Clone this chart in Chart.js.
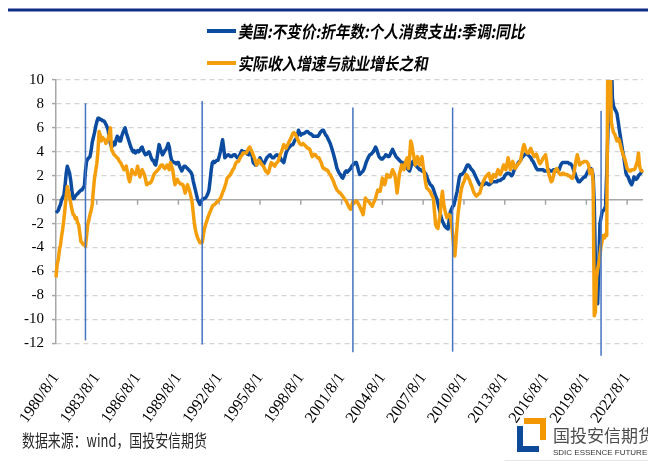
<!DOCTYPE html>
<html>
<head>
<meta charset="utf-8">
<script src="https://cdn.jsdelivr.net/npm/chart.js@4"></script>
<style>
html, body { margin: 0; padding: 0; background: #fff; }
#wrap { position: relative; width: 648px; height: 464px; }
</style>
</head>
<body>
<div id="wrap"><canvas id="ItemA"></canvas></div>
<script>
// monthly, starting 1980/8
var startYear = 1980, startMonth = 8;

var pceYoY = [
  -1.1,-1.0,-0.9,-0.6,-0.4,0.0,0.2,0.4,1.2,2.2,2.8,2.5,
  2.2,1.6,0.8,0.1,0.1,0.3,0.4,0.5,0.6,0.7,0.8,0.8,
  1.0,1.1,2.4,3.2,3.4,3.5,3.6,4.1,4.8,5.2,5.6,6.1,
  6.5,6.8,6.8,6.7,6.7,6.6,6.6,6.5,6.3,6.1,5.8,5.2,
  4.7,4.4,4.5,4.8,4.6,5.0,5.3,5.2,4.9,4.9,5.3,5.6,
  5.8,6.0,5.6,5.3,5.0,4.7,4.4,4.2,4.0,4.1,3.9,4.0,
  4.1,4.0,4.1,4.3,4.4,4.1,3.9,3.75,3.8,3.9,4.0,3.8,
  3.5,3.3,3.3,3.0,2.9,3.4,4.0,4.6,4.3,4.0,3.75,3.9,
  4.1,4.2,4.4,4.7,4.4,3.7,3.3,3.2,3.1,3.1,3.0,3.1,
  3.1,2.8,2.6,2.4,2.6,2.8,2.8,2.7,2.6,2.5,2.4,2.3,
  2.1,1.6,1.2,0.8,0.4,0.0,-0.2,-0.4,-0.2,0.0,0.1,0.1,
  0.15,0.3,0.5,0.8,1.6,2.5,3.1,3.2,3.1,3.2,3.3,3.3,
  3.6,4.0,4.5,5.0,4.3,3.5,3.6,3.7,3.75,3.7,3.6,3.6,
  3.7,3.75,3.75,3.6,3.5,3.5,3.7,3.9,4.1,4.0,4.0,4.0,
  3.9,3.8,3.75,3.9,4.0,3.7,3.1,3.0,2.9,2.9,3.1,3.3,
  3.5,3.3,3.0,2.9,3.1,3.3,3.5,3.6,3.7,3.75,3.6,3.5,
  3.5,3.6,3.7,3.75,3.7,3.6,3.5,3.3,3.2,3.1,3.5,3.9,
  4.1,4.3,4.4,4.5,4.6,4.6,4.8,5.0,5.1,5.4,5.8,5.6,
  5.4,5.5,5.5,5.55,5.6,5.7,5.7,5.6,5.5,5.5,5.4,5.3,
  5.3,5.3,5.3,5.3,5.4,5.6,5.7,5.8,5.8,5.6,5.4,5.3,
  5.1,4.9,4.7,4.4,4.1,3.75,3.4,3.0,2.6,2.4,2.2,2.1,
  1.9,1.8,2.0,2.3,2.4,2.3,2.4,2.5,2.6,2.8,2.9,3.0,
  3.1,3.1,2.8,2.4,2.1,2.2,2.3,2.4,2.6,2.9,3.2,3.4,
  3.6,3.75,3.8,3.9,4.0,4.2,4.4,4.2,3.9,3.6,3.5,3.4,
  3.4,3.5,3.6,3.75,3.7,3.6,3.6,3.8,4.0,4.2,4.0,3.8,
  3.6,3.5,3.4,3.3,3.2,3.1,3.1,3.0,2.9,2.8,2.6,2.5,
  2.4,2.7,3.0,3.2,3.0,2.9,2.8,2.7,2.6,2.5,2.5,2.4,
  2.4,2.3,2.2,2.0,1.7,1.5,1.3,1.2,1.1,0.9,0.6,0.3,
  0.1,-0.3,-0.7,-1.1,-1.5,-1.8,-2.0,-2.2,-2.3,-2.4,-2.45,-1.6,
  -1.0,-0.8,-0.55,-0.5,-0.1,0.3,0.7,1.3,1.9,2.1,2.1,2.2,
  2.3,2.5,2.7,2.9,2.9,2.8,2.6,2.5,2.4,2.2,2.0,1.8,
  1.6,1.4,1.25,1.25,1.3,1.25,1.3,1.4,1.4,1.3,1.25,1.3,
  1.4,1.5,1.5,1.5,1.5,1.5,1.6,1.6,1.6,1.7,1.75,1.8,
  2.0,2.1,2.2,2.2,2.2,2.1,2.0,2.1,2.4,2.6,2.8,2.9,
  3.1,3.2,3.3,3.5,3.6,3.7,3.8,3.9,3.8,3.7,3.6,3.5,
  3.3,3.2,3.0,2.8,2.6,2.5,2.5,2.5,2.5,2.5,2.5,2.4,
  2.4,2.4,2.5,2.5,2.4,2.4,2.4,2.5,2.5,2.5,2.4,2.4,
  2.5,2.8,3.0,3.1,3.1,3.1,3.1,3.1,3.1,3.0,3.0,2.9,
  2.7,2.4,2.2,1.9,1.7,1.5,1.5,1.6,1.7,1.8,1.9,1.9,
  2.1,2.3,2.5,2.6,2.6,2.5,2.0,-0.3,-5.3,-7.5,-8.7,-5.5,
  -2.0,-1.5,-1.0,-0.9,-0.8,-0.5,2.3,5.5,9.5,14.5,12.5,8.5,
  7.8,7.6,7.4,7.2,6.6,5.9,5.3,4.7,4.1,3.6,2.9,2.2,
  2.0,1.9,1.6,1.4,1.25,1.5,1.9,1.8,1.7,1.8,2.0,2.1,
  2.2,2.4,2.4
];

var incomeJobs = [
  -6.5,-5.4,-5.0,-4.2,-3.75,-3.0,-2.4,-1.6,-0.7,0.3,1.1,0.7,
  0.2,-0.3,-0.8,-1.2,-1.3,-1.6,-1.5,-1.9,-2.1,-2.8,-3.5,-3.6,
  -3.75,-3.7,-3.9,-3.0,-2.1,-1.7,-1.25,-0.9,-0.4,0.8,1.8,2.4,
  3.0,4.0,5.7,5.4,4.9,5.2,5.1,5.0,4.7,4.9,5.1,5.5,
  6.0,4.2,4.0,3.8,3.7,3.6,3.5,3.4,3.2,3.1,2.9,2.7,
  2.5,2.6,2.8,2.3,1.8,1.5,2.0,2.5,2.3,2.2,2.1,2.4,
  2.8,2.3,1.9,2.2,2.5,2.3,2.1,1.7,1.25,1.3,1.4,1.4,
  1.5,1.7,2.0,2.2,2.3,2.4,2.5,2.6,2.8,2.9,2.9,2.7,
  2.6,2.7,2.9,2.7,2.5,3.1,2.8,2.5,1.8,1.25,1.5,1.7,
  1.5,1.4,1.3,1.3,1.25,0.9,0.55,0.9,1.25,1.0,0.7,0.3,
  -0.15,-1.0,-1.9,-2.5,-2.9,-3.2,-3.4,-3.6,-3.6,-3.6,-3.0,-2.4,
  -2.1,-1.8,-1.5,-1.25,-1.0,-0.8,-0.55,-0.45,-0.4,-0.3,-0.2,-0.1,
  0.0,0.1,0.3,0.6,0.8,1.1,1.4,1.8,1.9,2.0,2.1,2.3,
  2.5,2.6,2.9,3.1,3.2,3.2,3.4,3.6,3.7,3.9,3.9,3.9,
  3.9,4.1,4.3,4.4,4.2,4.0,3.75,3.5,3.2,2.9,3.1,3.3,
  3.2,3.0,2.9,2.8,2.6,2.4,2.3,2.2,2.4,2.8,3.1,3.0,
  2.9,2.8,3.0,3.1,3.2,3.5,3.8,4.0,4.3,4.6,4.4,4.3,
  4.5,4.7,4.9,5.1,5.3,5.55,5.6,5.5,5.3,5.1,4.9,4.7,
  4.6,4.6,4.7,4.6,4.5,4.4,4.3,4.3,4.2,3.9,3.6,3.7,
  3.8,3.75,3.6,3.5,3.5,3.3,3.1,2.8,2.6,2.6,2.5,2.5,
  2.4,2.2,2.1,1.9,1.7,1.5,1.2,1.0,0.8,0.7,0.6,0.55,
  0.4,0.3,0.15,0.0,-0.1,-0.3,-0.5,-0.7,-0.8,-0.5,-0.15,-0.3,
  -0.2,-0.1,-0.2,-0.4,-0.55,-0.8,-1.0,-1.25,-0.6,0.15,0.0,-0.1,
  -0.15,-0.3,-0.4,-0.55,-0.3,-0.1,0.1,0.5,0.8,0.7,0.7,1.2,
  1.8,1.5,1.25,1.6,2.1,2.0,1.9,1.9,2.2,2.5,2.3,2.1,
  1.4,0.55,1.3,2.1,2.5,2.9,2.7,2.5,3.0,3.3,3.5,2.6,
  3.5,4.9,4.6,4.0,3.5,2.9,3.2,3.6,3.3,2.9,3.2,3.6,
  2.8,2.2,1.5,1.0,0.9,0.8,0.7,0.5,0.3,0.15,-1.0,-2.1,
  -2.3,-2.4,-1.8,-1.25,0.0,0.7,-0.2,-0.8,-1.2,-1.5,-1.4,-1.25,
  -1.4,-2.0,-2.9,-4.0,-4.7,-3.4,-2.1,-1.0,-0.3,0.5,1.0,1.3,
  1.5,1.8,2.1,2.0,1.8,1.6,1.3,1.1,0.8,0.55,0.4,0.3,
  0.4,0.5,0.55,0.9,1.25,1.5,1.7,1.9,2.0,2.1,2.2,1.8,
  1.5,1.8,2.1,2.0,1.9,2.2,2.5,2.3,2.1,2.3,2.6,2.9,
  2.7,2.5,3.0,3.5,3.0,2.5,2.8,3.2,2.9,2.6,2.7,2.9,
  3.0,3.1,3.3,3.8,4.3,4.6,4.3,4.0,3.9,3.9,4.1,4.3,
  4.0,3.8,3.6,3.7,3.8,3.5,3.2,3.0,3.1,3.3,3.5,3.6,
  3.75,3.2,2.5,2.1,1.8,1.5,1.6,2.0,2.4,2.5,2.6,2.4,
  2.2,2.1,2.1,2.2,2.2,2.1,2.1,2.1,2.0,2.0,1.9,1.8,
  1.8,2.2,2.8,3.3,3.75,3.4,2.9,3.0,3.1,3.1,3.2,3.2,
  3.2,3.1,2.9,2.2,2.4,2.5,1.5,-9.7,-9.4,-6.5,-5.8,-5.3,
  -4.6,-3.9,-3.4,-3.0,-3.2,-2.9,-3.0,13.0,18.0,12.0,6.5,6.0,
  5.6,5.5,5.2,4.9,5.1,5.0,4.6,4.2,3.9,3.6,3.4,3.0,
  2.6,2.5,2.4,2.4,2.5,2.5,2.5,2.6,2.9,3.2,3.9,2.8,
  2.5,2.4,2.5
];

var seriesNames = ['美国:不变价:折年数:个人消费支出:季调:同比', '实际收入增速与就业增长之和'];
var seriesColors = ['#0b4ca0', '#f59e0b'];

// thin vertical marker lines
var markerDates = ['1982/10/1', '1991/5/1', '2002/6/1', '2009/10/1', '2020/9/1'];
var markerTop = [8.06, 8.25, 7.7, 7.7, 7.4];
var markerBottom = [-11.75, -12.1, -12.75, -12.7, -13.05];

var yMin = -12, yMax = 10, yStep = 2;
var labelEvery = 36;

var labels = [];
for (var i = 0; i < pceYoY.length; i++) {
  var t = startYear * 12 + (startMonth - 1) + i;
  labels.push(Math.floor(t / 12) + '/' + (t % 12 + 1) + '/1');
}

var decor = {
  id: 'decor',
  beforeDatasetsDraw: function(chart) {
    var ctx = chart.ctx, xs = chart.scales.x, ys = chart.scales.y, a = chart.chartArea;
    var y0 = ys.getPixelForValue(0);
    ctx.save();
    ctx.strokeStyle = '#a6a6a6';
    ctx.lineWidth = 1.5;
    ctx.beginPath();
    ctx.moveTo(a.left, y0);
    ctx.lineTo(a.right, y0);
    xs.ticks.forEach(function(tk) {
      var x = xs.getPixelForValue(tk.value);
      ctx.moveTo(x, y0);
      ctx.lineTo(x, y0 + 5);
    });
    ctx.stroke();
    ctx.restore();
  },
  afterDatasetsDraw: function(chart) {
    var ctx = chart.ctx, xs = chart.scales.x, ys = chart.scales.y;
    ctx.save();
    ctx.strokeStyle = '#4474c2';
    ctx.lineWidth = 1.5;
    for (var k = 0; k < markerDates.length; k++) {
      var x = xs.getPixelForValue(labels.indexOf(markerDates[k]));
      ctx.beginPath();
      ctx.moveTo(x, ys.getPixelForValue(markerTop[k]));
      ctx.lineTo(x, ys.getPixelForValue(markerBottom[k]));
      ctx.stroke();
    }
    ctx.restore();
  },
  afterDraw: function(chart) {
    var ctx = chart.ctx;
    ctx.save();
    // top rule
    ctx.fillStyle = '#0f2d84';
    ctx.fillRect(8, 8.5, 640, 3);

    // legend
    var rows = [31, 63];
    for (var k = 0; k < seriesNames.length; k++) {
      ctx.strokeStyle = seriesColors[k];
      ctx.lineWidth = 4;
      ctx.beginPath();
      ctx.moveTo(207, rows[k]);
      ctx.lineTo(236, rows[k]);
      ctx.stroke();
      ctx.save();
      ctx.translate(239, rows[k]);
      ctx.transform(0.86, 0, -0.18, 1, 0, 0);
      ctx.font = 'bold 17px "Noto Sans CJK SC"';
      ctx.fillStyle = '#000';
      ctx.textBaseline = 'middle';
      ctx.fillText(seriesNames[k], 0, 1);
      ctx.restore();
    }

    // source
    ctx.save();
    ctx.translate(22, 441);
    ctx.scale(0.76, 1);
    ctx.font = '17px "Noto Sans CJK SC"';
    ctx.fillStyle = '#262626';
    ctx.textBaseline = 'middle';
    ctx.fillText('数据来源：wind，国投安信期货', 0, 0);
    ctx.restore();

    // logo
    ctx.fillStyle = '#f39800';
    ctx.fillRect(524, 418, 22, 6);
    ctx.fillRect(540, 418, 6, 22);
    ctx.fillStyle = '#0d4a9a';
    ctx.fillRect(517, 426, 6, 26);
    ctx.fillRect(517, 446, 22, 6);
    ctx.font = '17px "Noto Sans CJK SC"';
    ctx.fillStyle = '#4d4d4d';
    ctx.textBaseline = 'middle';
    ctx.fillText('国投安信期货', 553, 436);
    ctx.font = '8px "Liberation Sans"';
    ctx.fillStyle = '#333';
    ctx.fillText('SDIC ESSENCE FUTURES', 553, 453);
    ctx.fillStyle = '#e6e6e6';
    ctx.fillRect(505, 460, 143, 1);
    ctx.restore();
  }
};

var viewport = document.getElementById('ItemA');
var ctx = viewport.getContext('2d');

var myChart = new Chart(ctx, {
  type: 'line',
  data: {
    labels: labels,
    datasets: [
      {
        label: seriesNames[0],
        data: pceYoY,
        borderColor: seriesColors[0],
        borderWidth: 3.5,
        pointRadius: 0,
        tension: 0,
        fill: false,
        order: 1,
        borderJoinStyle: 'round',
        clip: {left: 5, right: 5, top: 0, bottom: 5}
      },
      {
        label: seriesNames[1],
        data: incomeJobs,
        borderColor: seriesColors[1],
        borderWidth: 3.5,
        pointRadius: 0,
        tension: 0,
        fill: false,
        order: 0,
        borderJoinStyle: 'round',
        clip: {left: 5, right: 5, top: 0, bottom: 5}
      }
    ]
  },
  options: {
    responsive: true,
    maintainAspectRatio: false,
    animation: false,
    layout: { padding: { left: 0, top: 80, right: 5, bottom: 0 } },
    plugins: { legend: { display: false }, tooltip: { enabled: false } },
    scales: {
      x: {
        grid: { display: false },
        border: { display: false },
        ticks: {
          autoSkip: false,
          minRotation: 55,
          maxRotation: 55,
          padding: 18,
          color: '#000',
          font: { family: '"Liberation Serif", "Times New Roman", serif', size: 16 }
        },
        afterBuildTicks: function(scale) {
          scale.ticks = scale.ticks.filter(function(tk) { return tk.value % labelEvery === 0; });
        },
        afterFit: function(scale) {
          scale.height = 120.7;
          scale.paddingLeft = 0;
          scale.paddingRight = 0;
        }
      },
      y: {
        min: yMin,
        max: yMax,
        ticks: {
          stepSize: yStep,
          padding: 8,
          color: '#000',
          font: { family: '"Liberation Serif", "Times New Roman", serif', size: 15 }
        },
        grid: {
          color: function(c) { return c.tick && c.tick.value === 0 ? 'rgba(0,0,0,0)' : '#d4d4d4'; },
          lineWidth: 1.2,
          tickLength: 4,
          tickColor: '#a6a6a6',
          tickWidth: 1.5
        },
        border: { display: true, color: '#a6a6a6', width: 1.5, dash: [5, 4] },
        afterFit: function(scale) {
          scale.width = 56;
        }
      }
    }
  },
  plugins: [decor]
});
</script>
</body>
</html>
